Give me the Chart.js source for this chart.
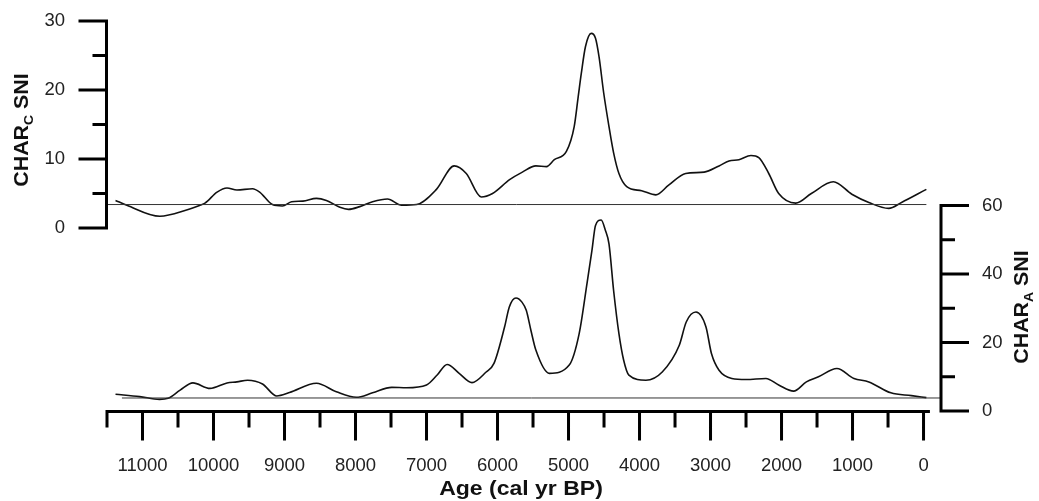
<!DOCTYPE html>
<html>
<head>
<meta charset="utf-8">
<script src="https://cdn.jsdelivr.net/npm/chart.js@4.4.0/dist/chart.umd.min.js"></script>
<style>
body { margin: 0; background: #fff; }
#wrap { width: 1039px; height: 501px; }
</style>
</head>
<body>
<div id="wrap"><canvas id="chart" width="1039" height="501"></canvas></div>
<script>
// CHAR_C SNI (top panel)
var ageC = [11380, 11220, 10755, 10380, 10190, 10120, 9950, 9810, 9670, 9450, 9350, 9170, 9030, 8900, 8740, 8550, 8410, 8220, 8100, 7940, 7760, 7550, 7350, 7140, 6860, 6610, 6440, 6230, 6070, 5830, 5650, 5460, 5310, 5200, 5030, 4920, 4864, 4820, 4761, 4680, 4620, 4570, 4505, 4430, 4365, 4290, 4180, 3970, 3770, 3590, 3350, 3090, 2880, 2740, 2600, 2430, 2320, 2180, 2040, 1800, 1580, 1270, 1010, 770, 490, 310, -40];
var charC = [4.0, 3.3, 1.7, 2.6, 3.3, 3.6, 5.2, 5.8, 5.5, 5.7, 5.2, 3.4, 3.2, 3.8, 3.9, 4.3, 4.0, 3.0, 2.7, 3.1, 3.8, 4.2, 3.3, 3.4, 5.6, 9.0, 7.9, 4.5, 5.0, 7.0, 8.1, 9.0, 8.9, 9.9, 11.1, 14.7, 19.0, 22.4, 26.3, 28.2, 27.5, 24.8, 19.6, 14.7, 10.9, 7.9, 6.0, 5.4, 4.8, 6.2, 7.9, 8.1, 9.0, 9.7, 9.9, 10.5, 10.2, 7.9, 5.0, 3.6, 5.0, 6.7, 4.9, 3.7, 2.85, 3.7, 5.6];

// CHAR_A SNI (bottom panel)
var ageA = [11380, 11040, 10760, 10640, 10470, 10290, 10050, 9810, 9670, 9520, 9310, 9110, 8930, 8550, 8270, 7990, 7760, 7490, 7280, 7000, 6850, 6710, 6540, 6360, 6160, 6050, 5900, 5834, 5740, 5656, 5595, 5530, 5460, 5270, 4990, 4850, 4740, 4670, 4620, 4540, 4480, 4430, 4365, 4290, 4224, 4150, 3910, 3680, 3440, 3342, 3205, 3065, 2987, 2880, 2700, 2500, 2220, 2040, 1830, 1650, 1480, 1220, 980, 770, 460, 170, -40];
var charA = [4.9, 4.2, 3.4, 3.7, 6.1, 8.2, 6.6, 8.2, 8.5, 9.0, 7.9, 4.4, 5.4, 8.1, 5.6, 4.0, 5.3, 6.9, 6.8, 7.6, 10.5, 13.6, 11.0, 8.3, 11.4, 13.9, 24.6, 30.4, 33.0, 31.8, 29.4, 23.6, 17.8, 11.0, 13.4, 22.6, 37.2, 46.9, 54.2, 55.8, 52.7, 48.8, 35.2, 22.6, 14.9, 10.5, 9.0, 11.4, 19.2, 26.0, 28.9, 24.6, 16.8, 11.9, 9.5, 9.2, 9.5, 7.6, 5.8, 8.5, 10.0, 12.4, 9.5, 8.5, 5.3, 4.5, 3.9];

// threshold lines
var thresholdC = 3.4;
var thresholdSpanC = [11500, -40];
var thresholdA = 3.8;
var thresholdSpanA = [11290, -246];

// axis ticks
var xTickLabels = [11000, 10000, 9000, 8000, 7000, 6000, 5000, 4000, 3000, 2000, 1000, 0];
var yTicksC = [0, 10, 20, 30];
var yTicksA = [0, 20, 40, 60];

var FONT = "'Liberation Sans', Arial, Helvetica, sans-serif";
Chart.defaults.font.family = FONT;

function toPoints(xs, ys) {
    return xs.map(function (x, i) { return { x: x, y: ys[i] }; });
}
function flatLine(span, v) {
    return span.map(function (x) { return { x: x, y: v }; });
}
function fixedTicks(list) {
    return function (s) { s.ticks = list.map(function (v) { return { value: v }; }); };
}
function fitSize(w, h) {
    return function (s) {
        if (w) s.width = w;
        if (h) s.height = h;
        s.paddingTop = 0;
        s.paddingBottom = 0;
    };
}

function drawSideTitle(ctx, bx, cy, main, sub, rest, stretch) {
    ctx.save();
    ctx.translate(bx, cy);
    ctx.rotate(-Math.PI / 2);
    ctx.scale(stretch, 1);
    var big = "bold 20px " + FONT, small = "bold 13px " + FONT;
    ctx.font = big;
    var w1 = ctx.measureText(main).width, w3 = ctx.measureText(rest).width;
    ctx.font = small;
    var w2 = ctx.measureText(sub).width;
    var x0 = -(w1 + w2 + w3) / 2;
    ctx.textBaseline = "alphabetic";
    ctx.textAlign = "left";
    ctx.fillStyle = "#111";
    ctx.font = big;
    ctx.fillText(main, x0, 0);
    ctx.font = small;
    ctx.fillText(sub, x0 + w1, 5);
    ctx.font = big;
    ctx.fillText(rest, x0 + w1 + w2, 0);
    ctx.restore();
}

var axesPlugin = {
    id: "panelAxes",
    afterDraw: function (chart) {
        var ctx = chart.ctx;
        var xs = chart.scales.x, yC = chart.scales.yC, yA = chart.scales.yA;
        var area = chart.chartArea;
        ctx.save();
        ctx.strokeStyle = "#000";
        ctx.lineWidth = 3;
        ctx.lineCap = "butt";

        // left axis (CHAR_C)
        var lx = area.left - 0.5;
        ctx.beginPath();
        ctx.moveTo(lx, yC.getPixelForValue(0) + 1.5);
        ctx.lineTo(lx, yC.getPixelForValue(30) - 1.5);
        for (var v = 0; v <= 30; v += 5) {
            var py = yC.getPixelForValue(v);
            ctx.moveTo(lx, py);
            ctx.lineTo(lx - (v % 10 === 0 ? 28 : 14), py);
        }
        ctx.stroke();

        // right axis (CHAR_A)
        var rx = area.right;
        ctx.beginPath();
        ctx.moveTo(rx, yA.getPixelForValue(0) + 1.5);
        ctx.lineTo(rx, yA.getPixelForValue(60) - 1.5);
        for (var a = 0; a <= 60; a += 10) {
            var pa = yA.getPixelForValue(a);
            ctx.moveTo(rx, pa);
            ctx.lineTo(rx + (a % 20 === 0 ? 28 : 14), pa);
        }
        ctx.stroke();

        // age axis
        var by = area.bottom + 0.5;
        ctx.beginPath();
        ctx.moveTo(xs.getPixelForValue(11500) - 1.5, by);
        ctx.lineTo(xs.getPixelForValue(-90), by);
        for (var t = 11500; t >= 0; t -= 500) {
            var px = xs.getPixelForValue(t);
            ctx.moveTo(px, by);
            ctx.lineTo(px, by + (t % 1000 === 0 ? 29 : 16));
        }
        ctx.stroke();

        // titles
        drawSideTitle(ctx, 28, 130, "CHAR", "C", " SNI", 1.07);
        drawSideTitle(ctx, 1028, 307, "CHAR", "A", " SNI", 1.07);

        ctx.save();
        ctx.translate(521, 495);
        ctx.scale(1.15, 1);
        ctx.font = "bold 20px " + FONT;
        ctx.fillStyle = "#111";
        ctx.textAlign = "center";
        ctx.textBaseline = "alphabetic";
        ctx.fillText("Age (cal yr BP)", 0, 0);
        ctx.restore();

        ctx.restore();
    }
};

var tickFont = { size: 18.5 };

new Chart(document.getElementById("chart").getContext("2d"), {
    type: "line",
    data: {
        datasets: [
            {
                data: flatLine(thresholdSpanC, thresholdC),
                yAxisID: "yC",
                borderColor: "#333",
                borderWidth: 1,
                pointRadius: 0
            },
            {
                data: flatLine(thresholdSpanA, thresholdA),
                yAxisID: "yA",
                borderColor: "#333",
                borderWidth: 1,
                pointRadius: 0
            },
            {
                data: toPoints(ageC, charC),
                yAxisID: "yC",
                borderColor: "#111",
                borderWidth: 1.6,
                pointRadius: 0,
                cubicInterpolationMode: "monotone"
            },
            {
                data: toPoints(ageA, charA),
                yAxisID: "yA",
                borderColor: "#111",
                borderWidth: 1.6,
                pointRadius: 0,
                cubicInterpolationMode: "monotone"
            }
        ]
    },
    options: {
        responsive: false,
        animation: false,
        layout: { padding: { top: 21, left: 0, right: 0, bottom: 0 } },
        plugins: { legend: { display: false }, tooltip: { enabled: false } },
        scales: {
            x: {
                type: "linear",
                reverse: true,
                min: -246,
                max: 11500,
                position: "bottom",
                afterBuildTicks: fixedTicks(xTickLabels),
                afterFit: fitSize(0, 90),
                grid: { display: false, drawTicks: false },
                border: { display: false },
                ticks: { autoSkip: false, maxRotation: 0, padding: 44, color: "#222", font: tickFont,
                    callback: function (v) { return String(v); } }
            },
            yC: {
                type: "linear",
                position: "left",
                min: -26.52,
                max: 30,
                afterBuildTicks: fixedTicks(yTicksC),
                afterFit: fitSize(107, 0),
                grid: { display: false, drawTicks: false },
                border: { display: false },
                ticks: { padding: 42, color: "#222", font: tickFont, callback: function (v) { return String(v); } }
            },
            yA: {
                type: "linear",
                position: "right",
                min: 0,
                max: 113.9,
                afterBuildTicks: fixedTicks(yTicksA),
                afterFit: fitSize(98, 0),
                grid: { display: false, drawTicks: false },
                border: { display: false },
                ticks: { padding: 41, color: "#222", font: tickFont, callback: function (v) { return String(v); } }
            }
        }
    },
    plugins: [axesPlugin]
});
</script>
</body>
</html>
